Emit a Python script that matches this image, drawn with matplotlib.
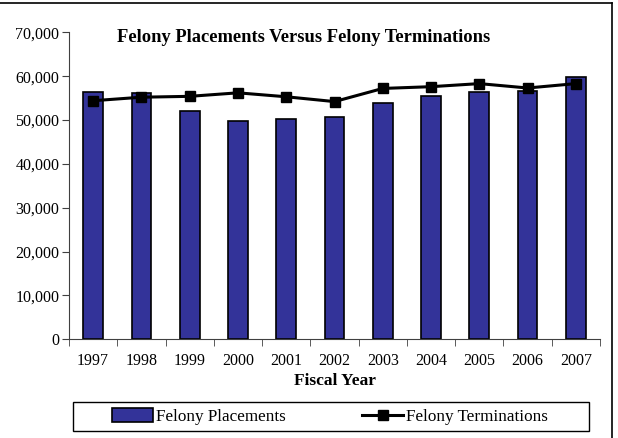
import matplotlib
matplotlib.use("Agg")
import matplotlib.pyplot as plt
import numpy as np
from matplotlib.lines import Line2D
from matplotlib.patches import Rectangle, Patch

years = ["1997", "1998", "1999", "2000", "2001", "2002",
         "2003", "2004", "2005", "2006", "2007"]
placements = [56400, 56100, 52000, 49700, 50200, 50700,
              53800, 55500, 56500, 56700, 59800]
terminations = [54400, 55200, 55400, 56200, 55300, 54200,
                57200, 57600, 58300, 57300, 58300]

plt.rcParams["font.family"] = ["Liberation Serif", "DejaVu Serif"]
W, H = 618, 438
fig = plt.figure(figsize=(W / 100, H / 100), dpi=100)

def fx(px):
    return px / W

def fy(py):
    return 1 - py / H

ax = fig.add_axes([fx(69), fy(339.3), fx(600) - fx(69), fy(32.3) - fy(339.3)])
x = np.arange(len(years))
ax.bar(x, placements, width=0.41, color="#333399", edgecolor="black", linewidth=1.2, zorder=2)
ax.plot(x, terminations, color="black", linewidth=2.2, marker="s", markersize=7.5, zorder=3)

ax.set_xlim(-0.5, len(years) - 0.5)
ax.set_ylim(0, 70000)
ax.set_yticks(np.arange(0, 70001, 10000))
ax.set_yticklabels([f"{v:,}" for v in range(0, 70001, 10000)], fontsize=11.5)
ax.set_xticks(x)
ax.set_xticklabels(years, fontsize=11.5)
ax.tick_params(axis="x", which="major", length=0, pad=10)
ax.set_xticks(np.arange(-0.5, len(years), 1.0), minor=True)
ax.tick_params(axis="x", which="minor", length=5, color="#404040", direction="out")
ax.tick_params(axis="y", length=5, color="#404040", pad=2)
for s in ["top", "right"]:
    ax.spines[s].set_visible(False)
ax.spines["left"].set_color("#404040")
ax.spines["bottom"].set_color("#404040")

fig.text(fx(304), fy(37), "Felony Placements Versus Felony Terminations",
         fontsize=13.3, fontweight="bold", ha="center", va="center")
fig.text(fx(335), fy(381), "Fiscal Year", fontsize=12.5, fontweight="bold",
         ha="center", va="center")

# legend box
fig.patches.append(Rectangle((fx(73), fy(431)), fx(589) - fx(73), fy(402) - fy(431),
                             transform=fig.transFigure, facecolor="white",
                             edgecolor="black", linewidth=1.0))
handles = [Patch(facecolor="#333399", edgecolor="black", linewidth=1.2),
           Line2D([], [], color="black", linewidth=2.2, marker="s", markersize=7.5)]
fig.legend(handles, ["Felony Placements", "Felony Terminations"], ncol=2,
           loc="center", bbox_to_anchor=(fx(330), fy(416.5)), frameon=False,
           fontsize=12.3, handlelength=2.4, handleheight=0.85, handletextpad=0.15,
           columnspacing=4.5, borderpad=0.2)

# outer chart border
fig.lines.append(Line2D([0, fx(611.5)], [fy(3), fy(3)], transform=fig.transFigure,
                        color="black", linewidth=1.2))
fig.lines.append(Line2D([fx(611.5), fx(611.5)], [fy(3), 0], transform=fig.transFigure,
                        color="black", linewidth=1.2))

fig.savefig("out.png", dpi=100)
